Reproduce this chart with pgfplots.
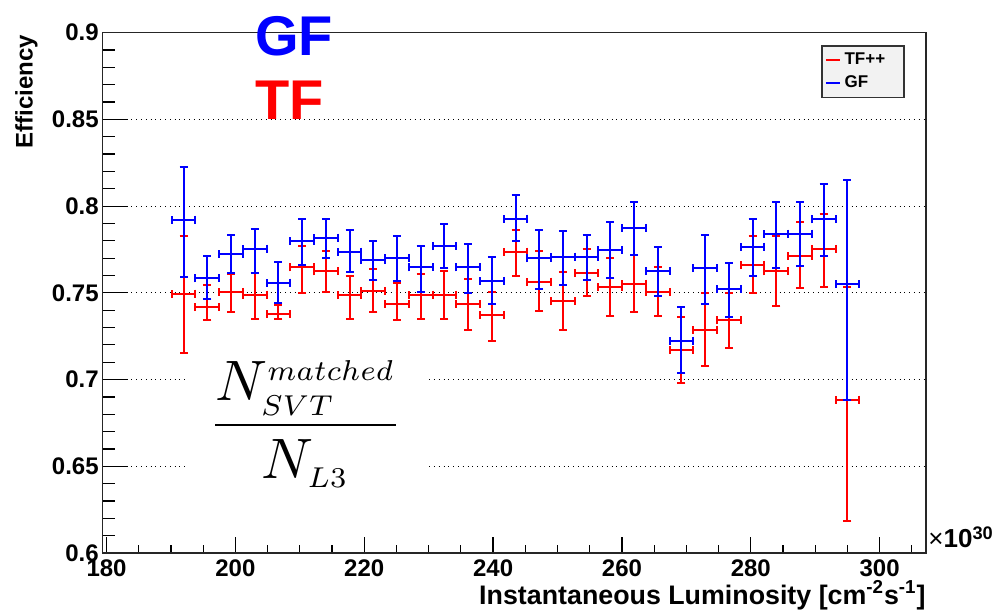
\documentclass[border=0pt]{standalone}
\usepackage{fontspec}
\setmainfont{Liberation Sans}
\usepackage{graphicx}
\usepackage{pgfplots}
\pgfplotsset{compat=1.18}
\usepackage{pgfplotstable}

\newcommand{\lab}{\bfseries\fontsize{12}{14}\selectfont}
\newcommand{\sm}[1]{\scalebox{0.72}{$\scriptstyle #1$}}

% TF++ : x, efficiency, upper edge, lower edge
\pgfplotstableread{
x       y       hi      lo
191.96  0.7495  0.7825  0.7155
195.64  0.7417  0.7544  0.7346
199.32  0.7505  0.7608  0.7388
203.00  0.7489  0.7612  0.7351
206.68  0.7379  0.7429  0.7350
210.36  0.7647  0.7769  0.7497
214.04  0.7624  0.7744  0.7505
217.72  0.7487  0.7598  0.7351
221.40  0.7511  0.7637  0.7388
225.08  0.7437  0.7559  0.7346
228.76  0.7489  0.7608  0.7351
232.44  0.7489  0.7627  0.7351
236.12  0.7437  0.7579  0.7287
239.80  0.7375  0.7507  0.7225
243.48  0.7738  0.7864  0.7598
247.16  0.7565  0.7744  0.7398
250.84  0.7452  0.7618  0.7287
254.52  0.7614  0.7754  0.7481
258.20  0.7536  0.7701  0.7365
261.88  0.7553  0.7719  0.7390
265.56  0.7505  0.7647  0.7365
269.24  0.7171  0.7361  0.6980
272.92  0.7287  0.7497  0.7079
276.60  0.7341  0.7497  0.7181
280.28  0.7662  0.7825  0.7497
283.96  0.7624  0.7825  0.7427
287.64  0.7715  0.7909  0.7526
291.32  0.7754  0.7952  0.7536
295.00  0.6885  0.7536  0.6186
}\tfpp

% GF
\pgfplotstableread{
x       y       hi      lo
191.96  0.7922  0.8226  0.7589
195.64  0.7583  0.7715  0.7462
199.32  0.7726  0.7835  0.7612
203.00  0.7755  0.7870  0.7612
206.68  0.7559  0.7680  0.7439
210.36  0.7798  0.7924  0.7660
214.04  0.7818  0.7924  0.7699
217.72  0.7738  0.7864  0.7621
221.40  0.7689  0.7798  0.7573
225.08  0.7701  0.7827  0.7569
228.76  0.7647  0.7769  0.7507
232.44  0.7769  0.7899  0.7643
236.12  0.7647  0.7779  0.7497
239.80  0.7569  0.7709  0.7433
243.48  0.7928  0.8064  0.7798
247.16  0.7699  0.7864  0.7524
250.84  0.7709  0.7854  0.7544
254.52  0.7709  0.7835  0.7573
258.20  0.7748  0.7909  0.7583
261.88  0.7874  0.8025  0.7719
265.56  0.7625  0.7763  0.7481
269.24  0.7225  0.7417  0.7035
272.92  0.7643  0.7835  0.7433
276.60  0.7520  0.7672  0.7361
280.28  0.7767  0.7924  0.7598
283.96  0.7841  0.8025  0.7643
287.64  0.7841  0.8025  0.7653
291.32  0.7924  0.8128  0.7715
295.00  0.7550  0.8152  0.6885
}\gf

\begin{document}
\begin{tikzpicture}
\begin{axis}[
    at={(0,0)}, anchor=south west,
    scale only axis,
    width=411.65pt, height=260.15pt,
    xmin=179.4, xmax=307.2,
    ymin=0.6, ymax=0.9,
    clip=false,
    xtick={180,200,...,300},
    minor xtick={185,190,...,305},
    ytick={0.6,0.65,0.7,0.75,0.8,0.85,0.9},
    yticklabels={0.6,0.65,0.7,0.75,0.8,0.85,0.9},
    minor y tick num=4,
    tick align=inside,
    tick pos=left,
    xtick style={/pgfplots/major tick length=7.8pt, /pgfplots/minor tick length=3.9pt, black, line width=0.6pt},
    ytick style={/pgfplots/major tick length=12.5pt, /pgfplots/minor tick length=6.25pt, black, line width=0.6pt},
    ymajorgrids,
    major grid style={black, dotted, line width=0.6pt},
    axis line style={black!85, line width=0.8pt},
    /pgf/number format/assume math mode=true,
    ticklabel style={font=\lab},
    yticklabel style={xshift=1.5pt},
    legend style={at={(rel axis cs:0.9745,0.9763)}, anchor=north east,
        fill=black!5, draw=black!80, line width=0.8pt,
        font=\bfseries\fontsize{8.5}{10}\selectfont,
        inner sep=1.5pt, row sep=0pt},
    legend cell align=left,
    legend image code/.code={\draw[#1, line width=0.8pt] (0pt,0pt) -- (7pt,0pt);},
]

\addplot[red, line width=1pt, draw=none, mark=none, forget plot,
    error bars/.cd, x dir=both, x fixed=1.84, y dir=both, y explicit,
    error bar style={draw=red, line width=1pt, solid},
    error mark options={rotate=90, mark size=2pt, line width=1pt, draw=red}]
    table[x=x, y=y, y error plus expr=\thisrow{hi}-\thisrow{y}, y error minus expr=\thisrow{y}-\thisrow{lo}] {\tfpp};

\addplot[blue, line width=1pt, draw=none, mark=none, forget plot,
    error bars/.cd, x dir=both, x fixed=1.84, y dir=both, y explicit,
    error bar style={draw=blue, line width=1pt, solid},
    error mark options={rotate=90, mark size=2pt, line width=1pt, draw=blue}]
    table[x=x, y=y, y error plus expr=\thisrow{hi}-\thisrow{y}, y error minus expr=\thisrow{y}-\thisrow{lo}] {\gf};

\addlegendimage{red}
\addlegendentry{TF++\kern6pt}
\addlegendimage{blue}
\addlegendentry{GF}

% white pad behind the ratio
\fill[white] (axis cs:192.43,0.628) rectangle (axis cs:230.06,0.7125);
\node at (axis cs:210.9,0.6745) {\scalebox{2.85}{$\displaystyle\frac{N^{\sm{matched}}_{\sm{SVT}}}{N_{\sm{L3}}}$}};

\node[anchor=base west, inner sep=0pt, text=blue, font=\bfseries\fontsize{28}{30}\selectfont] at (axis cs:203.0,0.8871) {GF};
\node[anchor=base west, inner sep=0pt, text=red, font=\bfseries\fontsize{28}{30}\selectfont] at (axis cs:203.0,0.8497) {TF};

\node[rotate=90, anchor=base east, inner sep=0pt, font=\lab] at ([xshift=-35pt, yshift=-1pt]rel axis cs:0,1) {Efficiency};
\node[anchor=base east, inner sep=0pt, font=\bfseries\fontsize{13.4}{15}\selectfont] at ([yshift=-25.6pt]rel axis cs:1,0) {Instantaneous Luminosity [cm\textsuperscript{-2}s\textsuperscript{-1}]};
\node[anchor=base west, inner sep=0pt, font=\bfseries\fontsize{13}{15}\selectfont] at ([xshift=1pt, yshift=2.5pt]rel axis cs:1,0) {{\mdseries ×}10\textsuperscript{30}};
\end{axis}
\pgfresetboundingbox
\path (-51.35pt,-30pt) rectangle (446.15pt,276.5pt);
\end{tikzpicture}
\end{document}
